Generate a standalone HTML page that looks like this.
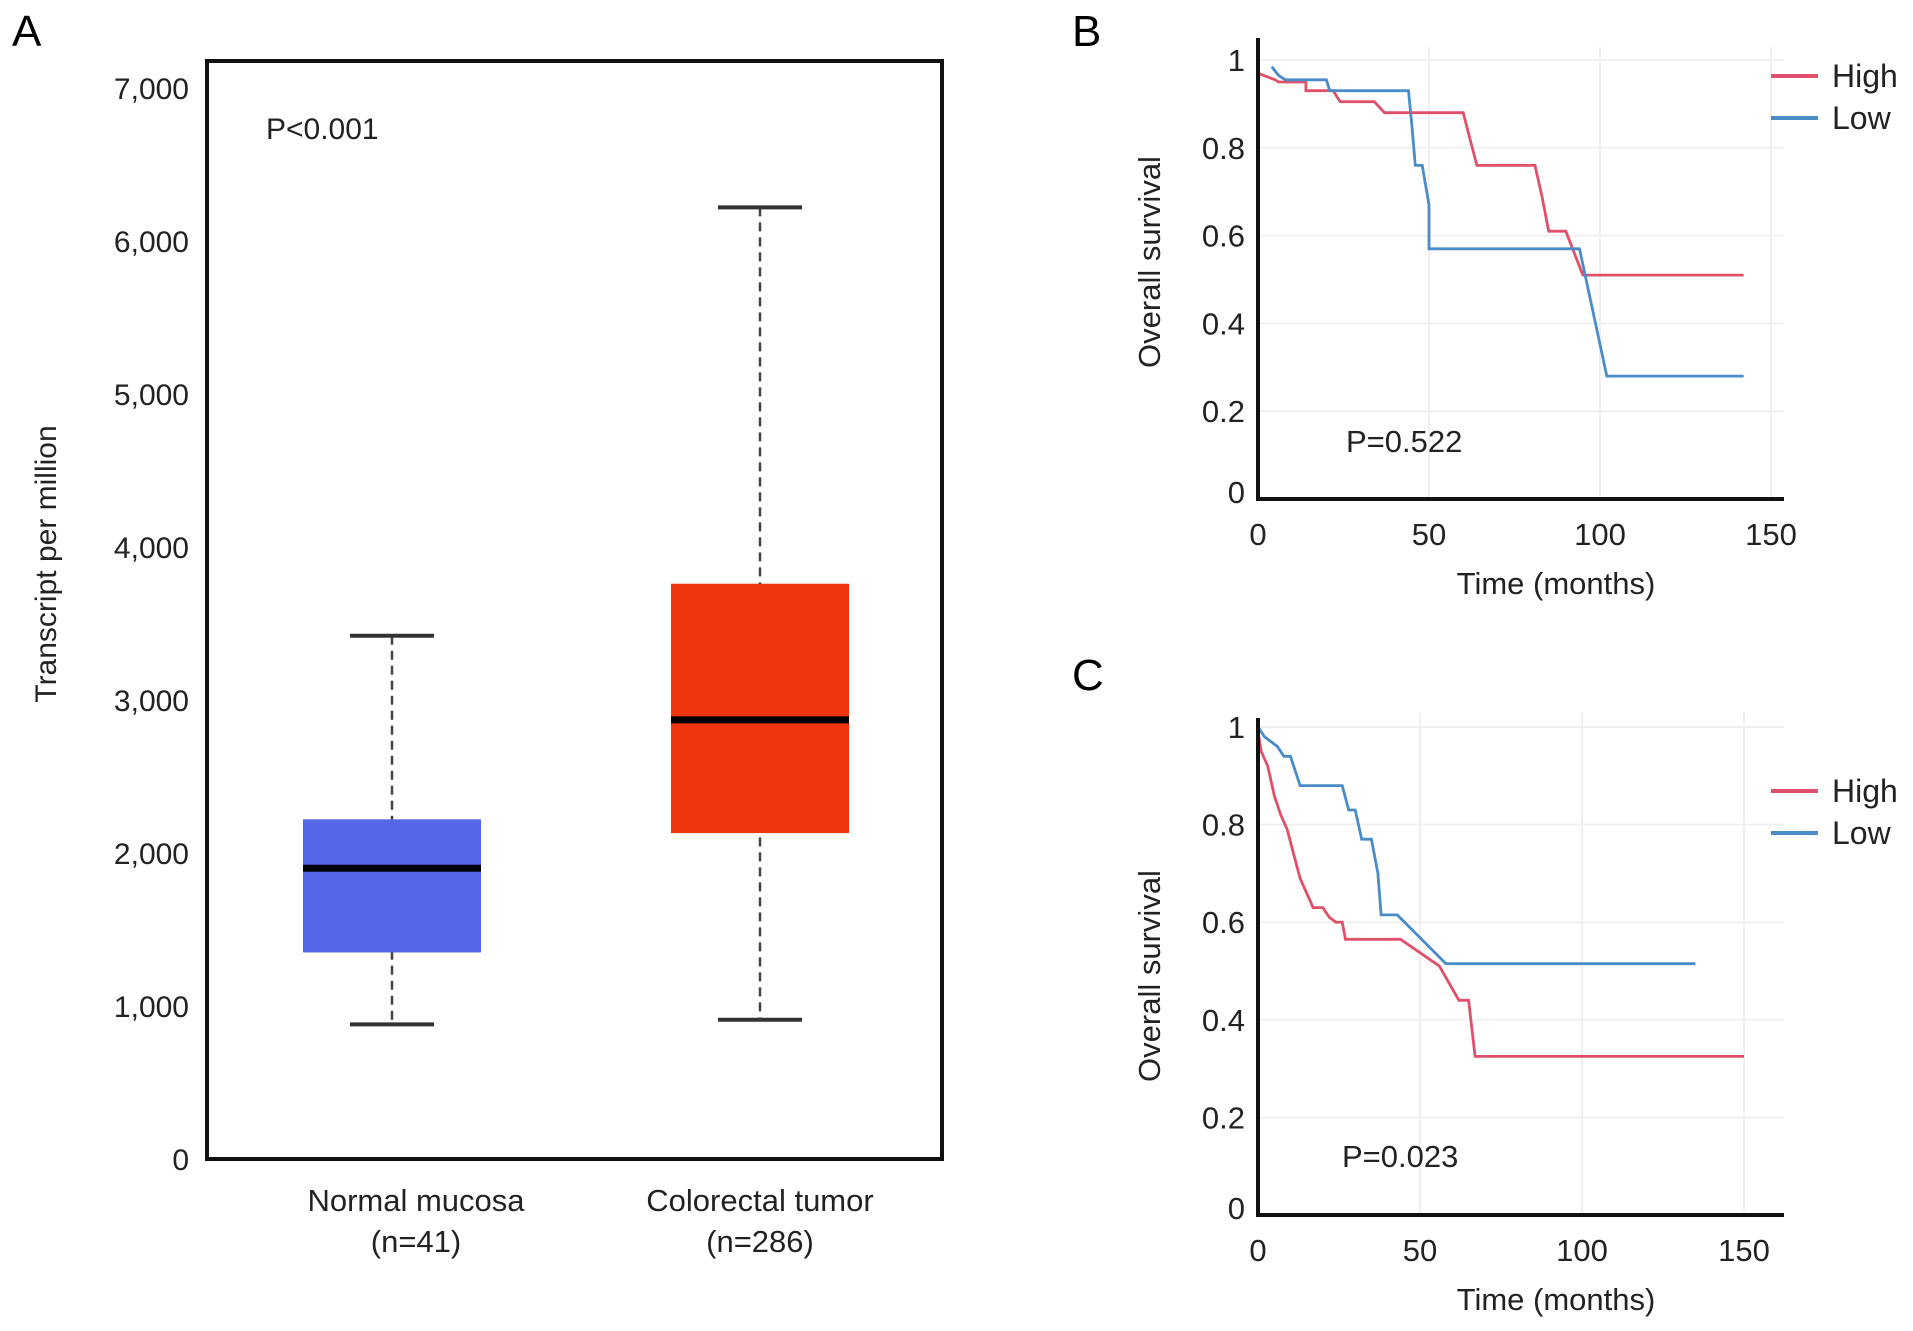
<!DOCTYPE html>
<html><head><meta charset="utf-8"><style>
html,body{margin:0;padding:0;background:#fff;}
svg{display:block;font-family:"Liberation Sans",Arial,sans-serif;}
</style></head><body>
<svg id="fig" width="1913" height="1331" viewBox="0 0 1913 1331">
<text x="12" y="46" font-size="44">A</text>
<text x="1072" y="46" font-size="44">B</text>
<text x="1072" y="690" font-size="44">C</text>
<g id="pa"></g>
<g id="pb"></g>
<g id="pc"></g>
</svg>
<script>
// Panel A data
const boxCategories = ["Normal mucosa", "Colorectal tumor"];
const boxN = ["(n=41)", "(n=286)"];
const boxMin = [880, 910];
const boxQ1 = [1350, 2130];
const boxMedian = [1900, 2870];
const boxQ3 = [2220, 3760];
const boxMax = [3420, 6220];
const boxColors = ["#5566e6", "#ee3510"];
const boxYTicks = [0, 1000, 2000, 3000, 4000, 5000, 6000, 7000];
const boxYTickLabels = ["0", "1,000", "2,000", "3,000", "4,000", "5,000", "6,000", "7,000"];

// Panel B data
const bHighT = [0,5,6,14,14,22,24,34,37,60,62,64,81,83,85,90,95,142];
const bHighS = [0.97,0.955,0.95,0.95,0.93,0.93,0.905,0.905,0.88,0.88,0.82,0.76,0.76,0.69,0.61,0.61,0.51,0.51];
const bLowT = [4,6,8,20,21,44,45,46,48,50,50,94,102,142];
const bLowS = [0.985,0.965,0.955,0.955,0.93,0.93,0.85,0.76,0.76,0.67,0.57,0.57,0.28,0.28];
// Panel C data
const cHighT = [0,1,3,5,7,9,11,13,15,17,20,22,24,26,27,44,56,62,65,67,150];
const cHighS = [0.99,0.95,0.92,0.86,0.82,0.79,0.74,0.69,0.66,0.63,0.63,0.61,0.6,0.6,0.565,0.565,0.51,0.44,0.44,0.325,0.325];
const cLowT = [0,2,6,8,10,12,13,26,28,30,32,35,37,38,43,58,135];
const cLowS = [1,0.98,0.96,0.94,0.94,0.9,0.88,0.88,0.83,0.83,0.77,0.77,0.7,0.615,0.615,0.515,0.515];
const kmXTicks = [0, 50, 100, 150];
const kmYTicks = [0, 0.2, 0.4, 0.6, 0.8, 1];
const kmYTickLabels = ["0", "0.2", "0.4", "0.6", "0.8", "1"];

const NS = "http://www.w3.org/2000/svg";
function mk(parent, tag, attrs, text) {
  const e = document.createElementNS(NS, tag);
  for (const k in attrs) e.setAttribute(k, attrs[k]);
  if (text !== undefined) e.textContent = text;
  parent.appendChild(e);
  return e;
}

// ---- Panel A ----
(function () {
  const g = document.getElementById("pa");
  const L = 207, T = 61, R = 942, B = 1159;
  const yA = v => B - (v / 7000) * (B - 88);
  const cx = [392, 760];
  const labelX = [416, 760];
  const halfW = 89, capW = 42;
  for (let i = 0; i < boxYTicks.length; i++) {
    const t = mk(g, "text", { x: 189, y: yA(boxYTicks[i]) + 11, "font-size": 30, "text-anchor": "end", fill: "#222" }, boxYTickLabels[i]);
    
    
  }
  const yt = mk(g, "text", { x: 0, y: 0, "font-size": 30, "text-anchor": "middle", fill: "#222", transform: "translate(56,564) rotate(-90)" }, "Transcript per million");
  
  
  for (let i = 0; i < boxCategories.length; i++) {
    const c = cx[i];
    const w = mk(g, "line", { x1: c, x2: c, y1: yA(boxMax[i]), y2: yA(boxMin[i]), stroke: "#444", "stroke-width": 2.5, "stroke-dasharray": "9,6" });
    
    
    for (const v of [boxMin[i], boxMax[i]]) {
      const cap = mk(g, "line", { x1: c - capW, x2: c + capW, y1: yA(v), y2: yA(v), stroke: "#333", "stroke-width": 4 });
      
      
    }
    const r = mk(g, "rect", { x: c - halfW, y: yA(boxQ3[i]), width: 2 * halfW, height: yA(boxQ1[i]) - yA(boxQ3[i]), fill: boxColors[i] });
    
    
    const m = mk(g, "line", { x1: c - halfW, x2: c + halfW, y1: yA(boxMedian[i]), y2: yA(boxMedian[i]), stroke: "#000", "stroke-width": 7 });
    
    
    const l1 = mk(g, "text", { x: labelX[i], y: 1211, "font-size": 31, "text-anchor": "middle", fill: "#222" }, boxCategories[i]);
    
    
    const l2 = mk(g, "text", { x: labelX[i], y: 1252, "font-size": 31, "text-anchor": "middle", fill: "#222" }, boxN[i]);
    
    
  }
  const fr = mk(g, "rect", { x: L, y: T, width: R - L, height: B - T, fill: "none", stroke: "#111", "stroke-width": 4 });
  
  
  const p = mk(g, "text", { x: 266, y: 139, "font-size": 30, fill: "#222" }, "P<0.001");
  
  
})();

// ---- KM panels ----
function km(gid, cfg, highT, highS, lowT, lowS) {
  const g = document.getElementById(gid);
  const x = t => cfg.x0 + t / 50 * cfg.px50;
  const y = s => cfg.y0 - s * cfg.pyUnit;
  for (const t of kmXTicks.slice(1)) {
    const gl = mk(g, "line", { x1: x(t), x2: x(t), y1: y(0), y2: y(1.03), stroke: "#f0f0f0", "stroke-width": 2 });
    
    
  }
  for (const s of kmYTicks.slice(1)) {
    const gl = mk(g, "line", { x1: x(0), x2: cfg.axEnd, y1: y(s), y2: y(s), stroke: "#f0f0f0", "stroke-width": 2 });
    
    
  }
  const series = [[highT, highS, "#e0506a", "high-survival-curve"], [lowT, lowS, "#4a8cc8", "low-survival-curve"]];
  for (const [T, S, col, name] of series) {
    const pts = T.map((t, i) => x(t).toFixed(1) + "," + y(S[i]).toFixed(1)).join(" ");
    const pl = mk(g, "polyline", { points: pts, fill: "none", stroke: col, "stroke-width": 2.8 });
    
    
  }
  const ay = mk(g, "line", { x1: x(0), x2: x(0), y1: cfg.axTop, y2: y(0) + 2, stroke: "#111", "stroke-width": 4 });
  
  
  const ax = mk(g, "line", { x1: x(0) - 2, x2: cfg.axEnd, y1: y(0), y2: y(0), stroke: "#111", "stroke-width": 4 });
  
  
  for (const t of kmXTicks) {
    const tl = mk(g, "text", { x: x(t), y: y(0) + 46, "font-size": 31, "text-anchor": "middle", fill: "#222" }, String(t));
    
    
  }
  for (let i = 0; i < kmYTicks.length; i++) {
    const yy = i === 0 ? y(0) + 4 : y(kmYTicks[i]) + 11;
    const tl = mk(g, "text", { x: x(0) - 13, y: yy, "font-size": 31, "text-anchor": "end", fill: "#222" }, kmYTickLabels[i]);
    
    
  }
  const xt = mk(g, "text", { x: 1556, y: cfg.xTitleY, "font-size": 31, "text-anchor": "middle", fill: "#222" }, "Time (months)");
  
  
  const yt = mk(g, "text", { x: 0, y: 0, "font-size": 31, "text-anchor": "middle", fill: "#222", transform: "translate(1160," + cfg.yTitleY + ") rotate(-90)" }, "Overall survival");
  
  
  const pv = mk(g, "text", { x: cfg.pX, y: cfg.pY, "font-size": 31, fill: "#222" }, cfg.p);
  
  
  const leg = [["High", "#e0506a", cfg.legY], ["Low", "#4a8cc8", cfg.legY + 42]];
  for (const [lab, col, ly] of leg) {
    const ll = mk(g, "line", { x1: 1771, x2: 1818, y1: ly, y2: ly, stroke: col, "stroke-width": 4 });
    
    
    const lt = mk(g, "text", { x: 1832, y: ly + 11, "font-size": 32, fill: "#222" }, lab);
    
    
  }
}
km("pb", { x0: 1258, px50: 171, y0: 499, pyUnit: 439, axTop: 38, axEnd: 1784, xTitleY: 594, yTitleY: 262, pX: 1346, pY: 452, p: "P=0.522", legY: 76 }, bHighT, bHighS, bLowT, bLowS);
km("pc", { x0: 1258, px50: 162, y0: 1215, pyUnit: 488, axTop: 718, axEnd: 1784, xTitleY: 1310, yTitleY: 976, pX: 1342, pY: 1167, p: "P=0.023", legY: 791 }, cHighT, cHighS, cLowT, cLowS);
</script>
</body></html>
